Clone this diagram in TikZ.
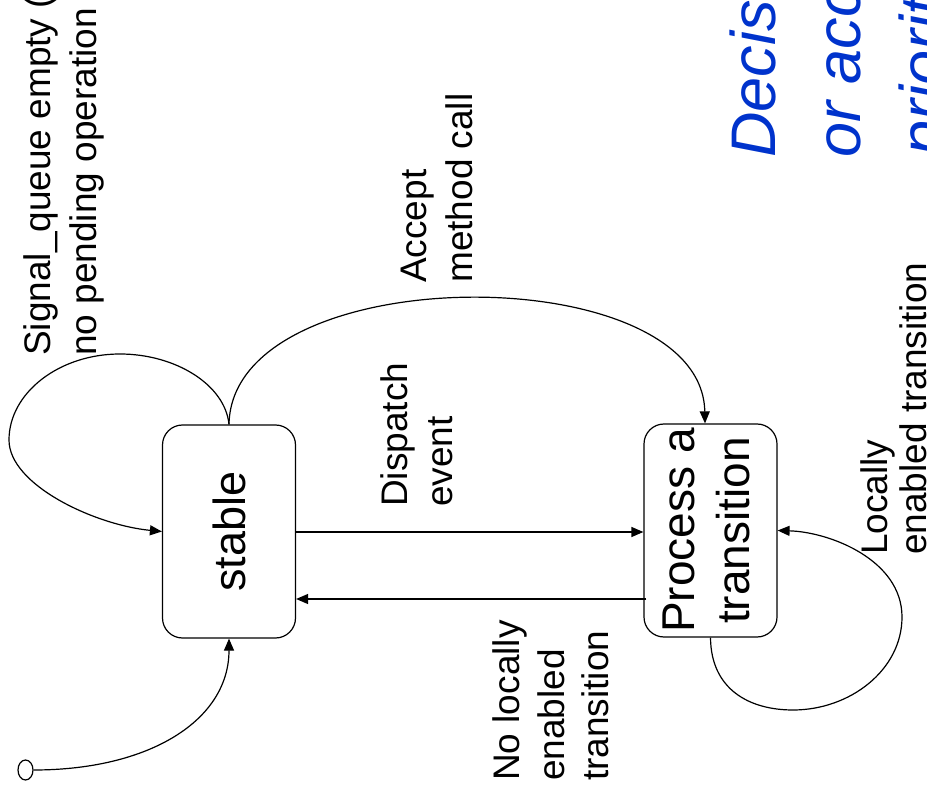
\documentclass[tikz,border=0pt]{standalone}
\usepackage{fontspec}
\setmainfont{Liberation Sans}
\usetikzlibrary{arrows.meta,shapes.geometric}
\definecolor{titleblue}{RGB}{0,51,204}
\tikzset{
  statebox/.style={draw, line width=1.2pt, rounded corners=20pt, minimum width=133pt, minimum height=213pt, inner sep=0pt},
  lbl/.style={font=\fontsize{37}{44}\selectfont, rotate=90, anchor=base west, inner sep=0pt},
  bluelbl/.style={font=\fontsize{63}{84}\selectfont\itshape, text=titleblue, rotate=90, anchor=base west, inner sep=0pt},
  arr/.style={-{Triangle[length=12pt,width=10pt]}, line width=1.2pt},
}
\begin{document}
\begin{tikzpicture}[x=1pt,y=1pt]
\useasboundingbox (0,0) rectangle (927,-799);
\clip (0,0) rectangle (927,-799);

% states
\node[statebox, font=\fontsize{45}{54}\selectfont] (stable) at (229,-531.5) {\rotatebox{90}{stable}};
\node[statebox, font=\fontsize{46}{55}\selectfont] (proc) at (710.5,-530.5) {\rotatebox{90}{\begin{tabular}{@{}c@{}}Process a\\transition\end{tabular}}};
\node[draw, ellipse, line width=1.2pt, minimum width=15pt, minimum height=20pt, inner sep=0pt] (init) at (25.5,-770) {};

% connectors
\draw[arr] (init.east) .. controls (150,-770) and (229,-720) .. (stable.south);
\draw[arr] (stable.north) .. controls +(3,167) and +(-3,167) .. ([xshift=-5.5pt]proc.north);
\draw[arr] (stable.north) .. controls +(-4,40) and (175,-354) .. (120,-354)
   .. controls (59,-354) and (9,-393) .. (9,-440)
   .. controls (9,-485) and (95,-525) .. (stable.west);
\coordinate (dy) at (0,-532);
\coordinate (ny) at (0,-599);
\draw[arr] (stable.east |- dy) -- (proc.west |- dy);
\draw[arr] ([xshift=3pt]proc.west |- ny) -- (stable.east |- ny);
\draw[arr] (proc.south) .. controls (711,-690) and (750,-710) .. (793,-710)
   .. controls (850,-710) and (902,-670) .. (902,-617)
   .. controls (902,-560) and (830,-532) .. (proc.east);

% labels
\node[lbl] (sig1) at (50,-356) {Signal\_queue empty (};
\node[lbl] (sig2) at (96,-356) {no pending operation};
\node[lbl] (acc1) at (426,-283) {Accept};
\node[lbl] (acc2) at (472,-283) {method call};
\node[lbl] (dis1) at (407,-507) {Dispatch};
\node[lbl] (dis2) at (452,-507) {event};
\node[lbl] (nl1) at (519,-781) {No locally};
\node[lbl] (nl2) at (564,-781) {enabled};
\node[lbl] (nl3) at (608,-781) {transition};
\node[lbl] (loc1) at (887,-555) {Locally};
\node[lbl] (loc2) at (926,-555) {enabled transition};

% blue title text (cut by the page edge)
\node[bluelbl] (dec1) at (775,-158) {Decis};
\node[bluelbl] (dec2) at (860,-158) {or acc};
\node[bluelbl] (dec3) at (944,-156) {priorit};
\end{tikzpicture}
\end{document}
